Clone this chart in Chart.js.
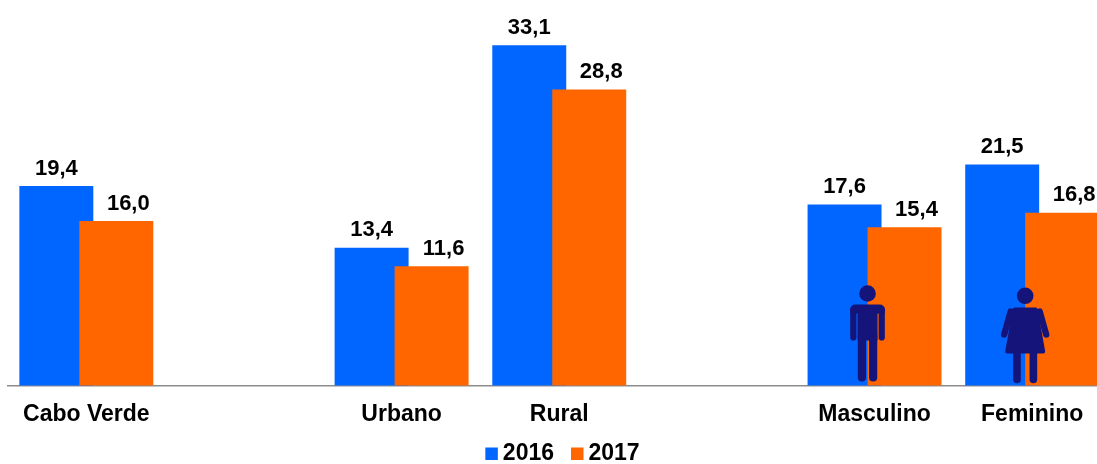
<!DOCTYPE html>
<html>
<head>
<meta charset="utf-8">
<script src="https://cdn.jsdelivr.net/npm/chart.js@4"></script>
<style>
html,body{margin:0;padding:0;background:#fff;overflow:hidden;width:1097px;height:464px}
canvas{display:block}
</style>
</head>
<body>
<canvas id="c" width="1111" height="464"></canvas>
<script>
const categories = ["Cabo Verde", "", "Urbano", "Rural", "", "Masculino", "Feminino"];
const values2016 = [19.4, null, 13.4, 33.1, null, 17.6, 21.5];
const values2017 = [16.0, null, 11.6, 28.8, null, 15.4, 16.8];
const BLUE = "#0066FF", ORANGE = "#FF6600", ICON = "#14147A";
const FONT = "'Liberation Sans', Arial, sans-serif";
const labelShift = [0, 12];

function man(ctx, cx, base) {
  const y = v => base + v;
  ctx.fillStyle = ctx.strokeStyle = ICON;
  ctx.lineCap = "round";
  ctx.beginPath(); ctx.arc(cx, y(-92), 8.3, 0, Math.PI * 2); ctx.fill();
  ctx.beginPath(); ctx.roundRect(cx - 17.3, y(-81), 34.6, 9, [5, 5, 0, 0]); ctx.fill();
  ctx.fillRect(cx - 10, y(-78), 20, 33);
  ctx.lineWidth = 6.2;
  [-1, 1].forEach(s => {
    ctx.beginPath(); ctx.moveTo(cx + s * 14.2, y(-76)); ctx.lineTo(cx + s * 14.2, y(-48)); ctx.stroke();
  });
  ctx.lineWidth = 8.2;
  [-1, 1].forEach(s => {
    ctx.beginPath(); ctx.moveTo(cx + s * 5.6, y(-50)); ctx.lineTo(cx + s * 5.6, y(-8)); ctx.stroke();
  });
}
function woman(ctx, cx, base) {
  const y = v => base + v;
  ctx.fillStyle = ctx.strokeStyle = ICON;
  ctx.lineCap = "round";
  ctx.beginPath(); ctx.arc(cx, y(-89.7), 8.3, 0, Math.PI * 2); ctx.fill();
  ctx.lineJoin = "round";
  ctx.lineWidth = 4;
  ctx.beginPath();
  ctx.moveTo(cx - 10.5, y(-76)); ctx.lineTo(cx + 10.5, y(-76));
  ctx.lineTo(cx + 18, y(-34)); ctx.lineTo(cx - 18, y(-34)); ctx.closePath();
  ctx.fill(); ctx.stroke();
  ctx.lineWidth = 6.4;
  [-1, 1].forEach(s => {
    ctx.beginPath(); ctx.moveTo(cx + s * 14.5, y(-74)); ctx.lineTo(cx + s * 21, y(-51)); ctx.stroke();
  });
  ctx.lineWidth = 7.6;
  [-1, 1].forEach(s => {
    ctx.beginPath(); ctx.moveTo(cx + s * 8.2, y(-34)); ctx.lineTo(cx + s * 8.2, y(-6)); ctx.stroke();
  });
}

const painter = {
  id: "painter",
  // 2017 overlaps 2016, so the datasets are painted in reading order
  beforeDatasetsDraw(chart) {
    chart.getDatasetMeta(0).controller.draw();
    chart.getDatasetMeta(1).controller.draw();
    return false;
  },
  afterDraw(chart) {
    const ctx = chart.ctx;
    ctx.save();
    // value labels
    ctx.font = "bold 22px " + FONT;
    ctx.fillStyle = "#000";
    ctx.textAlign = "center";
    ctx.textBaseline = "middle";
    chart.data.datasets.forEach((ds, d) => {
      const meta = chart.getDatasetMeta(d);
      ds.data.forEach((v, i) => {
        if (v === null) return;
        const el = meta.data[i];
        ctx.fillText(v.toFixed(1).replace(".", ","), el.x + labelShift[d], el.y - 17.5);
      });
    });
    // gender icons
    const xs = chart.scales.x, base = chart.scales.y.getPixelForValue(0);
    man(ctx, xs.getPixelForValue(5) - 7, base);
    woman(ctx, xs.getPixelForValue(6) - 7, base);
    // legend
    ctx.font = "bold 23px " + FONT;
    ctx.textAlign = "left";
    const items = chart.data.datasets.map(ds => ({ t: ds.label, c: ds.backgroundColor, w: ctx.measureText(ds.label).width }));
    const box = 12.5, gap = 5, between = 17;
    const total = items.reduce((a, it) => a + box + gap + it.w, 0) + between * (items.length - 1);
    let x = 562.5 - total / 2;
    const ly = 454;
    items.forEach(it => {
      ctx.fillStyle = it.c;
      ctx.fillRect(x, ly - 6.5, box, box);
      ctx.fillStyle = "#000";
      ctx.fillText(it.t, x + box + gap, ly);
      x += box + gap + it.w + between;
    });
    ctx.restore();
  }
};

new Chart(document.getElementById("c"), {
  type: "bar",
  data: {
    labels: categories,
    datasets: [
      { label: "2016", data: values2016, backgroundColor: BLUE },
      { label: "2017", data: values2017, backgroundColor: ORANGE }
    ]
  },
  options: {
    responsive: false,
    animation: false,
    layout: { padding: { left: 7.5, right: 0, top: 0, bottom: 0 } },
    datasets: { bar: { categoryPercentage: 0.761, barPercentage: 1.233 } },
    plugins: { legend: { display: false }, tooltip: { enabled: false }, title: { display: false } },
    scales: {
      x: {
        offset: true,
        afterFit(s) { s.height = 78.5; },
        grid: { display: false, drawTicks: false },
        border: { display: true, color: "#8C8C8C", width: 1.5 },
        ticks: { autoSkip: false, maxRotation: 0, padding: 15, color: "#000", font: { family: FONT, size: 23, weight: "bold" } }
      },
      y: { display: false, min: 0, max: 37.5 }
    }
  },
  plugins: [painter]
});
</script>
</body>
</html>
